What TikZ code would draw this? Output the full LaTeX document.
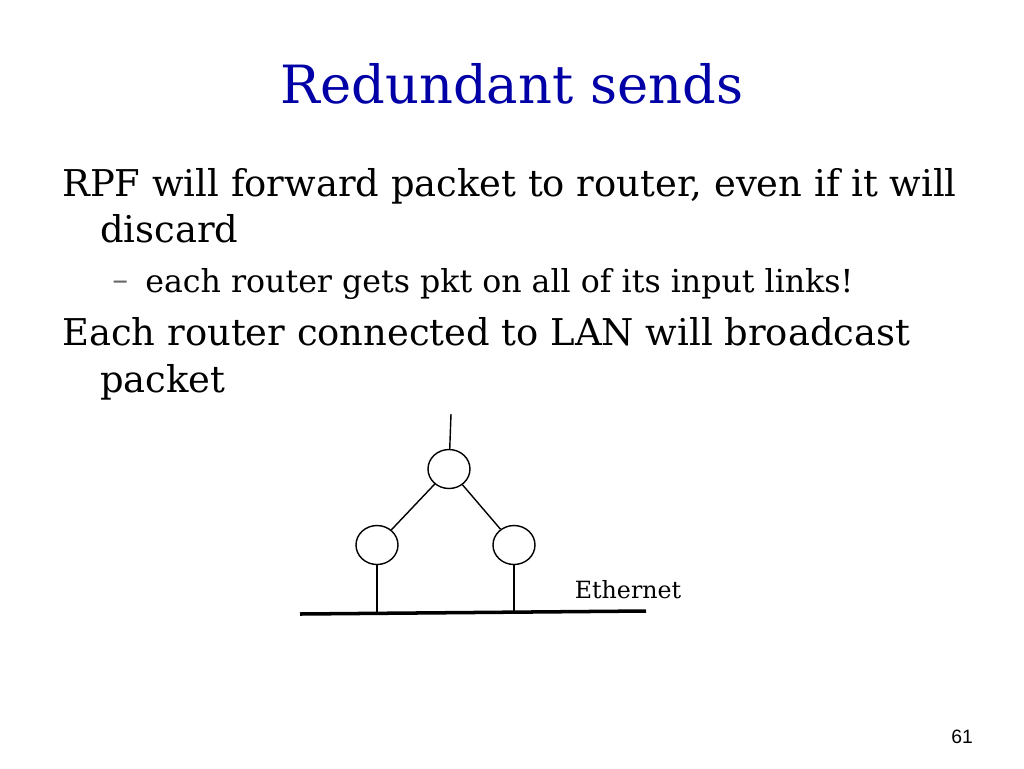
\documentclass[tikz,border=0pt]{standalone}
\usepackage{fontspec}
\setmainfont{DejaVu Serif}
\newfontfamily\pagefont{Liberation Sans}
\usetikzlibrary{shapes.geometric}
\begin{document}
\begin{tikzpicture}[
    x=0.02cm, y=-0.02cm,
    % Stile
    router/.style={draw=black, ellipse, minimum width=0.84cm, minimum height=0.78cm, inner sep=0pt, line width=0.8pt},
    link/.style={draw=black, line width=0.8pt},
    body/.style={anchor=base west, font=\fontsize{21}{25}\selectfont, inner sep=0pt},
    sub/.style={anchor=base west, font=\fontsize{18}{21}\selectfont, inner sep=0pt}
]
    \useasboundingbox (0,0) rectangle (1024,768);

    % ==========================================
    % TEXT
    % ==========================================
    \node[font=\fontsize{30}{36}\selectfont, text=blue!65!black, anchor=base] (title) at (512,103) {Redundant sends};
    \node[body] (l1) at (62,196) {RPF will forward packet to router, even if it will};
    \node[body] (l2) at (100,242) {discard};
    \node[sub, text=black!60] (dash) at (112,290) {--};
    \node[sub] (l3) at (145,292) {each router gets pkt on all of its input links!};
    \node[body] (l4) at (62,345) {Each router connected to LAN will broadcast};
    \node[body] (l5) at (100,392) {packet};
    \node[font=\pagefont\fontsize{11}{13}\selectfont, anchor=base] (num) at (962,743) {61};

    % ==========================================
    % NETZ
    % ==========================================
    \node[router] (top) at (449,469) {};
    \node[router] (left) at (377,545) {};
    \node[router] (right) at (514,545) {};
    \coordinate (in) at (451,414);
    \coordinate (ethW) at (300,614);
    \coordinate (ethE) at (646,611);

    \draw[link] (in) -- (top);
    \draw[link] (top) -- (left);
    \draw[link] (top) -- (right);
    \draw[link] (left.south) -- (left.south |- 0,613);
    \draw[link] (right.south) -- (right.south |- 0,612);
    \draw[black, line width=2pt] (ethW) -- (ethE);
    \node[font=\fontsize{13.5}{16}\selectfont, anchor=base] (eth) at (628,598) {Ethernet};
\end{tikzpicture}
\end{document}
